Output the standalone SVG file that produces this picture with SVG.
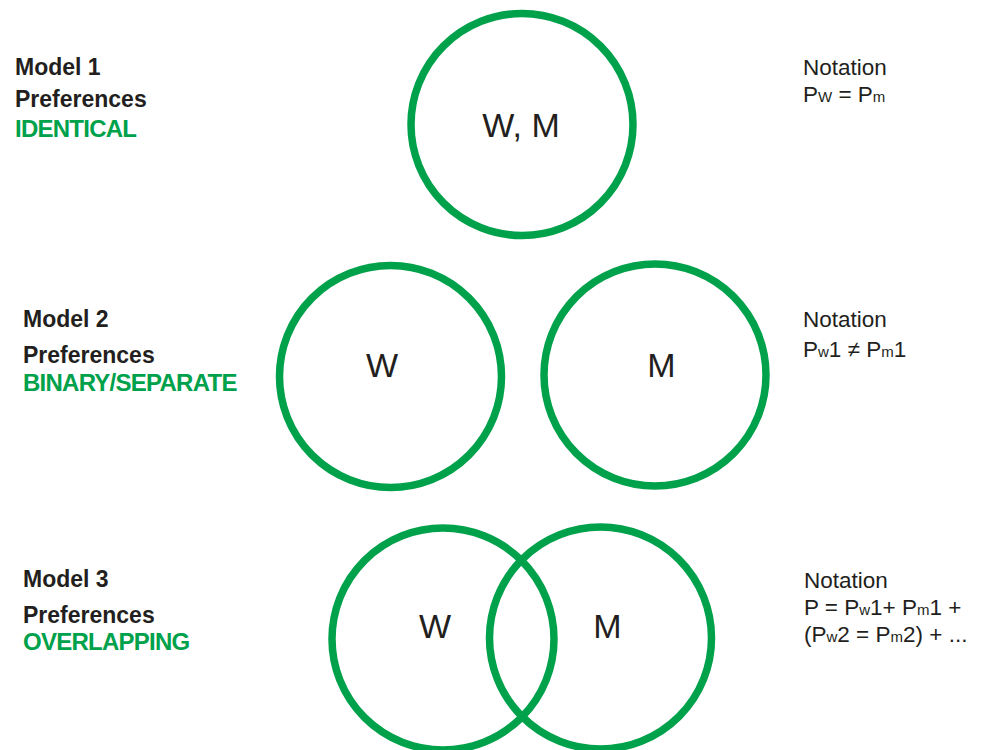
<svg xmlns="http://www.w3.org/2000/svg" width="986" height="750" viewBox="0 0 986 750">
<style>
.c{fill:none;stroke:#00a14b;stroke-width:7.5}
.lbl{font-family:"Liberation Sans",Arial,sans-serif;font-size:23px;font-weight:bold;fill:#231f20}
.pref{font-family:"Liberation Sans",Arial,sans-serif;font-size:24px;font-weight:bold;fill:#00a14b;letter-spacing:-0.75px}
.nt{font-family:"Liberation Sans",Arial,sans-serif;font-size:22.5px;fill:#231f20}
.s{font-size:15px}
.in{font-family:"Liberation Sans",Arial,sans-serif;font-size:34px;fill:#231f20;text-anchor:middle}
</style>
<rect width="986" height="750" fill="#ffffff"/>
<g id="model1-label">
<text class="lbl" x="15" y="75">Model 1</text>
<text class="lbl" x="15" y="107">Preferences</text>
<text class="pref" x="15" y="137">IDENTICAL</text>
</g>
<g id="model2-label">
<text class="lbl" x="23" y="327">Model 2</text>
<text class="lbl" x="23" y="363">Preferences</text>
<text class="pref" x="23" y="391">BINARY/SEPARATE</text>
</g>
<g id="model3-label">
<text class="lbl" x="23" y="587">Model 3</text>
<text class="lbl" x="23" y="623">Preferences</text>
<text class="pref" x="23" y="650">OVERLAPPING</text>
</g>
<g id="wm-circle">
<circle class="c" cx="522" cy="124.5" r="111"/>
<text class="in" x="521" y="137">W, M</text>
</g>
<g id="w-circle-2">
<circle class="c" cx="390.5" cy="376.5" r="111"/>
<text class="in" x="382" y="377">W</text>
</g>
<g id="m-circle-2">
<circle class="c" cx="655" cy="375" r="111"/>
<text class="in" x="661.5" y="377">M</text>
</g>
<g id="w-circle-3">
<circle class="c" cx="443" cy="639" r="111"/>
<text class="in" x="435" y="638">W</text>
</g>
<g id="m-circle-3">
<circle class="c" cx="600.5" cy="638" r="111"/>
<text class="in" x="607.5" y="638">M</text>
</g>
<g id="notation1">
<text class="nt" x="803" y="75">Notation</text>
<text class="nt" x="803" y="102">P<tspan class="s">W</tspan> = P<tspan class="s">m</tspan></text>
</g>
<g id="notation2">
<text class="nt" x="803" y="327">Notation</text>
<text class="nt" x="803" y="357">P<tspan class="s">w</tspan>1 ≠ P<tspan class="s">m</tspan>1</text>
</g>
<g id="notation3">
<text class="nt" x="804" y="588">Notation</text>
<text class="nt" x="804" y="615">P = P<tspan class="s">w</tspan>1+ P<tspan class="s">m</tspan>1 +</text>
<text class="nt" x="804" y="642">(P<tspan class="s">w</tspan>2 = P<tspan class="s">m</tspan>2) + ...</text>
</g>
<g id="connectors"/>
</svg>
